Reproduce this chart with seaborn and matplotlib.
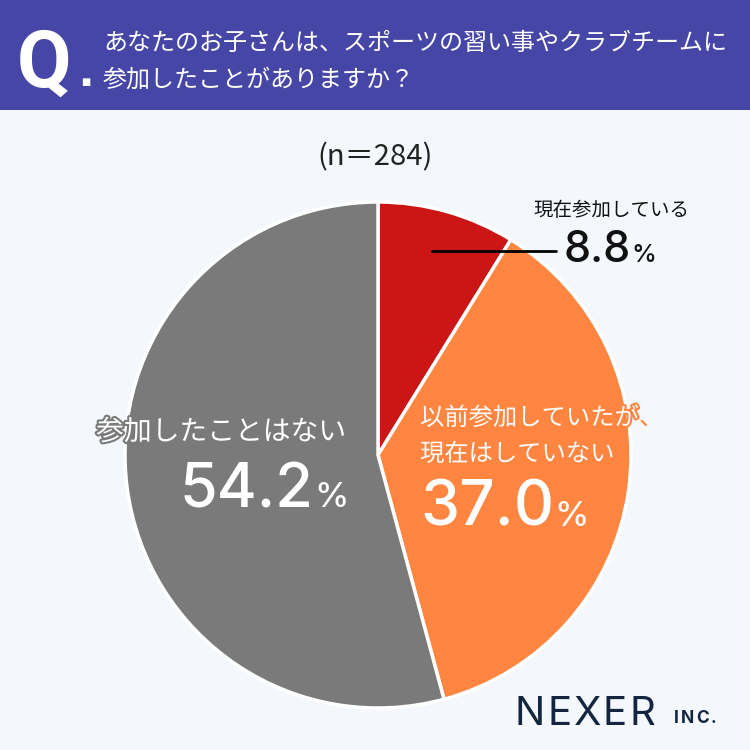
import matplotlib
matplotlib.use("Agg")
import matplotlib.pyplot as plt
import seaborn as sns
import matplotlib.patheffects as pe

sns.set_theme(style="white")
plt.rcParams['font.family'] = ['Noto Sans CJK JP', 'DejaVu Sans']

# data
categories = ["現在参加している", "以前参加していたが、\n現在はしていない", "参加したことはない"]
values = [8.8, 37.0, 54.2]
value_labels = ["8.8", "37.0", "54.2"]
colors = ["#CC1616", "#FF8540", "#7A7A7A"]
n_label = "(n＝284)"
question = "あなたのお子さんは、スポーツの習い事やクラブチームに\n参加したことがありますか？"

W = H = 750
fig = plt.figure(figsize=(7.5, 7.5), dpi=100)
fig.patch.set_facecolor("#F4F8FC")
renderer = fig.canvas.get_renderer()

def fx(x): return x / W
def fy(y): return 1 - y / H

NUMF = ["Inter", "DejaVu Sans"]

def spaced(x, y, s, spacing, **kw):
    for ch in s:
        t = fig.text(fx(x), fy(y), ch, ha="left", va="baseline", **kw)
        w = t.get_window_extent(renderer).width
        x += w + spacing

# header band
hdr = fig.add_axes([0, fy(110), 1, 110 / H])
hdr.set_facecolor("#4646A6")
hdr.set_xticks([]); hdr.set_yticks([])
for s in hdr.spines.values():
    s.set_visible(False)
fig.text(fx(17), fy(87), "Q", color="white", fontsize=57, fontweight="bold",
         va="baseline", ha="left", family=["Roboto", "DejaVu Sans"])
fig.text(fx(81), fy(82), "■", color="white", fontsize=7, va="center", ha="left",
         family=["DejaVu Sans"])
fig.text(fx(103), fy(61), question, color="white", fontsize=17.3, va="center",
         ha="left", linespacing=1.55)

# pie
cx, cy, r = 378, 455, 253
ax = fig.add_axes([fx(cx - r), fy(cy + r), 2 * r / W, 2 * r / H])
ax.pie(values, colors=colors, startangle=90, counterclock=False,
       wedgeprops=dict(edgecolor="white", linewidth=2.5))
ax.set_xlim(-1, 1); ax.set_ylim(-1, 1)
ax.set_aspect("equal")
ax.axis("off")

fig.text(fx(375), fy(157), n_label, fontsize=21, ha="center", va="center", color="#222222")

# red label
fig.text(fx(611), fy(211), categories[0], fontsize=14, ha="center", va="center", color="#111111")
fig.add_artist(plt.Line2D([fx(432), fx(556)], [fy(251), fy(251)], color="black", lw=2))
fig.text(fx(631), fy(262), value_labels[0], fontsize=31, ha="right", va="baseline",
         color="#111111", fontweight="medium", family=NUMF)
fig.text(fx(631), fy(262), "%", fontsize=18, ha="left", va="baseline", color="#111111",
         fontweight="medium", family=NUMF)

# orange label
stroke_o = [pe.withStroke(linewidth=3, foreground="#FF8540", joinstyle="round", capstyle="round")]
line1, line2 = categories[1].split("\n")
t1 = fig.text(fx(420), fy(418), line1[:-1], fontsize=17.5, ha="left", va="center",
              color="white", path_effects=stroke_o)
ext = t1.get_window_extent(renderer)
fig.text(ext.x1 / W, fy(418), line1[-1], fontsize=17.5, ha="left", va="center",
         color="#FF8540")
fig.text(fx(420), fy(454), line2, fontsize=17.5, ha="left", va="center", color="white",
         path_effects=stroke_o)
fig.text(fx(554), fy(525), value_labels[1], fontsize=45, ha="right", va="baseline",
         color="white", fontweight="medium", family=NUMF)
fig.text(fx(554), fy(526), "%", fontsize=25, ha="left", va="baseline", color="white",
         fontweight="medium", family=NUMF)

# gray label
stroke_g = [pe.withStroke(linewidth=3, foreground="#7A7A7A", joinstyle="round", capstyle="round")]
fig.text(fx(221), fy(432), categories[2], fontsize=20, ha="center", va="center", color="white",
         path_effects=stroke_g)
fig.text(fx(313), fy(507), value_labels[2], fontsize=44, ha="right", va="baseline",
         color="white", fontweight="medium", family=NUMF)
fig.text(fx(314), fy(507), "%", fontsize=25, ha="left", va="baseline", color="white",
         fontweight="medium", family=NUMF)

# logo
spaced(515, 725, "NEXER", 2, fontsize=29, color="#14263F", family=NUMF)
spaced(674, 723, "INC.", 2, fontsize=12.5, fontweight="bold", color="#14263F", family=NUMF)

fig.savefig("out.png", dpi=100, facecolor=fig.get_facecolor())
